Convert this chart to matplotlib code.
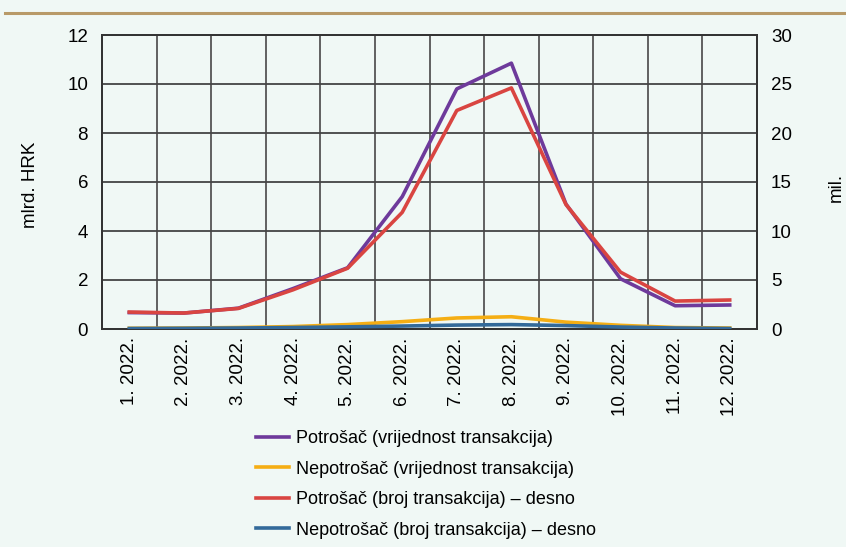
import matplotlib
matplotlib.use("Agg")
import matplotlib.pyplot as plt
from matplotlib.lines import Line2D
import numpy as np

categories = ["1. 2022.", "2. 2022.", "3. 2022.", "4. 2022.", "5. 2022.", "6. 2022.",
              "7. 2022.", "8. 2022.", "9. 2022.", "10. 2022.", "11. 2022.", "12. 2022."]
potrosac_vrijednost = [0.67, 0.65, 0.85, 1.65, 2.5, 5.4, 9.8, 10.85, 5.1, 2.05, 0.95, 0.98]
nepotrosac_vrijednost = [0.03, 0.04, 0.06, 0.1, 0.18, 0.3, 0.45, 0.5, 0.28, 0.15, 0.06, 0.04]
potrosac_broj = [1.73, 1.63, 2.1, 4.0, 6.2, 11.9, 22.3, 24.6, 12.7, 5.8, 2.85, 2.96]
nepotrosac_broj = [0.05, 0.07, 0.1, 0.15, 0.22, 0.3, 0.4, 0.45, 0.35, 0.2, 0.1, 0.05]

labels = ["Potrošač (vrijednost transakcija)", "Nepotrošač (vrijednost transakcija)",
          "Potrošač (broj transakcija) – desno", "Nepotrošač (broj transakcija) – desno"]
colors = ["#6E3A9B", "#F5AE14", "#D94541", "#336A9A"]

plt.rcParams['font.family'] = ['Liberation Sans', 'DejaVu Sans']
bg = "#F0F8F5"
fig = plt.figure(figsize=(8.46, 5.47), dpi=100, facecolor=bg)
ax = fig.add_axes([102/846, 1-329/547, (757-102)/846, (329-35)/547])
ax.set_facecolor(bg)
ax2 = ax.twinx()

x = np.arange(len(categories))
lw = 2.6
ax2.plot(x, nepotrosac_broj, color=colors[3], lw=lw, zorder=3)
ax.plot(x, nepotrosac_vrijednost, color=colors[1], lw=lw, zorder=3)
ax.plot(x, potrosac_vrijednost, color=colors[0], lw=lw, zorder=4)
ax2.plot(x, potrosac_broj, color=colors[2], lw=lw, zorder=5)

ax.set_xlim(-0.5, 11.5)
ax.set_ylim(0, 12)
ax2.set_ylim(0, 30)
ax.set_yticks(range(0, 13, 2))
ax2.set_yticks(range(0, 31, 5))
ax.set_xticks(x)
ax.set_xticklabels(categories, rotation=90, fontsize=13.5)
ax.set_xticks(np.arange(-0.5, 12, 1), minor=True)
ax.grid(True, which='minor', axis='x', color='#555555', lw=1.3)
ax.grid(True, which='major', axis='y', color='#444444', lw=1.3)
ax.tick_params(which='both', length=0)
ax.tick_params(axis='y', labelsize=13.5, pad=10)
ax.tick_params(axis='x', pad=6)
ax2.tick_params(length=0, labelsize=13.5, pad=10)
for a in (ax, ax2):
    for s in a.spines.values():
        s.set_color('#333333')
        s.set_linewidth(1.3)

fig.text(30/846, 1-185/547, "mlrd. HRK", rotation=90, ha='center', va='center', fontsize=13.5)
fig.text(836/846, 1-187/547, "mil.", rotation=90, ha='center', va='center', fontsize=13.5)

fig.add_artist(Line2D([5/846, 1], [1-13/547, 1-13/547], color="#B89A68", lw=2.2))

handles = [Line2D([], [], color=c, lw=2.6) for c in colors]
leg = fig.legend(handles, labels, loc='upper left', bbox_to_anchor=(256/846, 1-430/547),
                 frameon=False, fontsize=13, handlelength=1.85, labelspacing=0.75,
                 handletextpad=0.35, borderpad=0, borderaxespad=0)

fig.savefig("out.png", dpi=100, facecolor=bg)
